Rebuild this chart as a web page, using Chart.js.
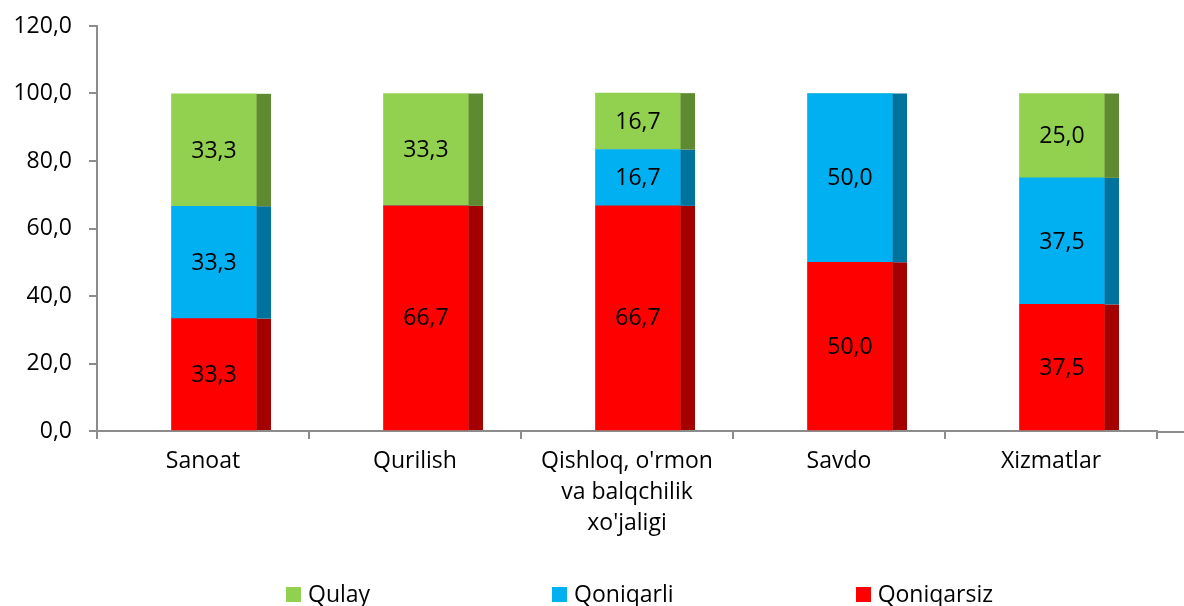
<!DOCTYPE html>
<html>
<head>
<meta charset="utf-8">
<script src="https://cdn.jsdelivr.net/npm/chart.js@4"></script>
<style>
  html, body { margin: 0; padding: 0; background: #fff; }
  #wrap { position: relative; width: 1184px; height: 606px; }
  #legend { position: absolute; left: 286px; top: 580px; display: flex; gap: 182px;
            font-family: "Open Sans", sans-serif; font-size: 23px; color: #000; line-height: 26px; }
  .li { display: flex; align-items: center; }
  .sw { width: 15px; height: 15px; margin-right: 7px; margin-top: 2px; }
</style>
</head>
<body>
<div id="wrap">
  <canvas id="c" width="1184" height="606"></canvas>
  <div id="legend"></div>
</div>
<script>
const categories = ['Sanoat', 'Qurilish', ["Qishloq, o'rmon", 'va balqchilik', "xo'jaligi"], 'Savdo', 'Xizmatlar'];
const seriesNames = ['Qoniqarsiz', 'Qoniqarli', 'Qulay'];
const qoniqarsiz = [33.3, 66.7, 66.7, 50.0, 37.5];
const qoniqarli = [33.3, 0, 16.7, 50.0, 37.5];
const qulay = [33.3, 33.3, 16.7, 0, 25.0];
const yTicks = [0, 20, 40, 60, 80, 100, 120];

const frontColors = ['#FF0000', '#00B0F0', '#92D050'];
const sideColors = ['#A50000', '#00729E', '#5E8A32'];
const FONT = '"Open Sans", sans-serif';
const SHIFT = 11, FRONT = 85, SIDE = 14.5;

const fmt = v => v.toFixed(1).replace('.', ',');

const barPlugin = {
  id: 'bar3d',
  beforeDatasetsDraw(chart) {
    chart.ctx.save();
    chart.ctx.translate(SHIFT, 0);
  },
  afterDatasetsDraw(chart) {
    const ctx = chart.ctx;
    chart.data.datasets.forEach((ds, di) => {
      const meta = chart.getDatasetMeta(di);
      meta.data.forEach((el, i) => {
        if (!ds.data[i]) return;
        const top = Math.min(el.y, el.base), bot = Math.max(el.y, el.base);
        ctx.fillStyle = sideColors[di];
        ctx.fillRect(el.x + FRONT / 2, top, SIDE, bot - top);
      });
    });
    ctx.fillStyle = '#000';
    ctx.font = '23px ' + FONT;
    ctx.textAlign = 'center';
    ctx.textBaseline = 'middle';
    chart.data.datasets.forEach((ds, di) => {
      const meta = chart.getDatasetMeta(di);
      meta.data.forEach((el, i) => {
        if (!ds.data[i]) return;
        ctx.fillText(fmt(ds.data[i]), el.x, (el.y + el.base) / 2 + 1);
      });
    });
    ctx.restore();
    // extend x axis line to the right edge
    const a = chart.chartArea;
    ctx.save();
    ctx.strokeStyle = '#8C8C8C';
    ctx.lineWidth = 2;
    ctx.beginPath();
    ctx.moveTo(a.right, a.bottom + 1);
    ctx.lineTo(chart.width, a.bottom + 1);
    ctx.stroke();
    ctx.restore();
  }
};

const chart = new Chart(document.getElementById('c'), {
  type: 'bar',
  data: {
    labels: categories,
    datasets: [
      { label: seriesNames[0], data: qoniqarsiz, backgroundColor: frontColors[0] },
      { label: seriesNames[1], data: qoniqarli, backgroundColor: frontColors[1] },
      { label: seriesNames[2], data: qulay, backgroundColor: frontColors[2] }
    ]
  },
  options: {
    responsive: false,
    animation: false,
    layout: { padding: { left: 0, top: 26, right: 27, bottom: 0 } },
    datasets: { bar: { barThickness: FRONT, borderWidth: 0 } },
    plugins: { legend: { display: false }, tooltip: { enabled: false } },
    scales: {
      x: {
        stacked: true,
        afterFit(s) { s.height = 175; s.paddingLeft = 0; s.paddingRight = 0; },
        grid: { drawOnChartArea: false, drawTicks: true, tickLength: 8, color: '#8C8C8C', lineWidth: 2, offset: true },
        border: { color: '#8C8C8C', width: 2 },
        ticks: { color: '#000', padding: 7, font: { family: FONT, size: 23, lineHeight: 1.35 }, maxRotation: 0, autoSkip: false }
      },
      y: {
        stacked: true,
        min: 0, max: 120,
        afterFit(s) { s.width = 97; s.paddingTop = 0; s.paddingBottom = 0; },
        afterBuildTicks(s) { s.ticks = yTicks.map(v => ({ value: v })); },
        grid: { drawOnChartArea: false, drawTicks: true, tickLength: 8, color: '#8C8C8C', lineWidth: 2 },
        border: { color: '#8C8C8C', width: 2 },
        ticks: { color: '#000', padding: 17, font: { family: FONT, size: 23 }, callback: v => fmt(v) }
      }
    }
  },
  plugins: [barPlugin]
});

// HTML legend, same order as reference (reversed stack order)
const leg = document.getElementById('legend');
chart.data.datasets.slice().reverse().forEach(ds => {
  const item = document.createElement('div');
  item.className = 'li';
  const sw = document.createElement('span');
  sw.className = 'sw';
  sw.style.background = ds.backgroundColor;
  const t = document.createElement('span');
  t.textContent = ds.label;
  item.appendChild(sw);
  item.appendChild(t);
  leg.appendChild(item);
});
</script>
</body>
</html>
